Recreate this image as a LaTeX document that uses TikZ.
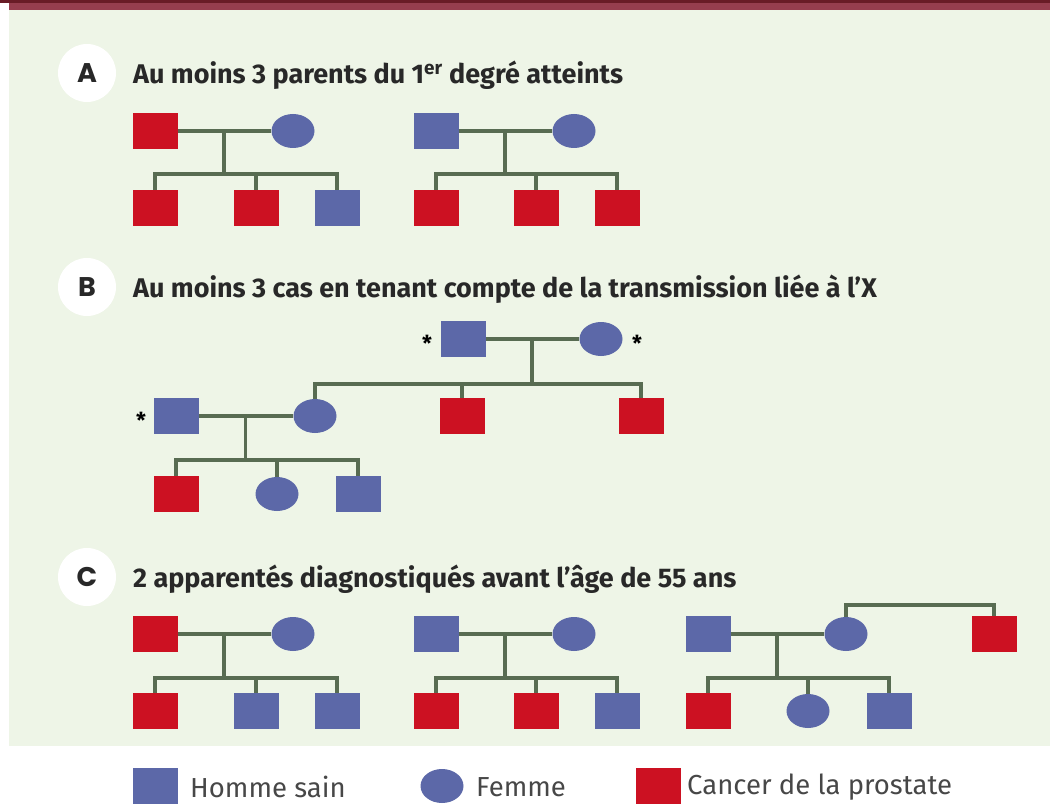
\documentclass[tikz,border=0pt]{standalone}
\usepackage{fontspec}
\setmainfont{Fira Sans}
\newfontfamily\lettrefont{Poppins}
\usetikzlibrary{shapes.geometric,calc}
\definecolor{rouge}{RGB}{204,17,34}
\definecolor{bleu}{RGB}{92,104,168}
\definecolor{trait}{RGB}{88,108,82}
\definecolor{fond}{RGB}{238,245,231}
\definecolor{bordeaux}{RGB}{105,28,38}
\definecolor{rose}{RGB}{150,62,78}
\definecolor{encre}{RGB}{40,40,40}
\begin{document}
\begin{tikzpicture}[x=1pt,y=-1pt,
  homme/.style={rectangle, fill=bleu, minimum width=45pt, minimum height=36pt, inner sep=0pt},
  malade/.style={rectangle, fill=rouge, minimum width=45pt, minimum height=36pt, inner sep=0pt},
  femme/.style={ellipse, fill=bleu, minimum width=43pt, minimum height=34pt, inner sep=0pt},
  lien/.style={draw=trait, line width=3.6pt},
  lettre/.style={circle, fill=white, minimum size=58pt, inner sep=0pt, font=\lettrefont\bfseries\fontsize{27}{27}\selectfont, text=encre},
  titre/.style={anchor=west, inner sep=0pt, font=\bfseries\fontsize{27}{32}\selectfont, text=encre},
  etoile/.style={inner sep=0pt, font=\bfseries\fontsize{22}{22}\selectfont},
  legende/.style={anchor=west, inner sep=0pt, font=\fontsize{27.5}{32}\selectfont, text=black!72}]
  \useasboundingbox (0,0) rectangle (1050,805);
  % fond
  \fill[bordeaux] (0,0) rectangle (1050,3.5);
  \fill[rose] (9,3.5) rectangle (1050,10);
  \fill[fond] (9,10) rectangle (1050,746);

  % A
  \node[lettre] (lA) at (87,73) {A};
  \node[titre] (tA) at (133,75) {Au moins 3 parents du 1\textsuperscript{er} degré atteints};
  \node[malade] (a1f) at (155,131) {};
  \node[femme] (a1m) at (293,131) {};
  \node[malade] (a1c1) at (155,208) {};
  \node[malade] (a1c2) at (256,208) {};
  \node[homme] (a1c3) at (337,208) {};
  \coordinate (a1s) at (224,174);
  \draw[lien] (a1f) -- (a1m);
  \draw[lien] ($(a1f)!.5!(a1m)$) -- (a1s);
  \draw[lien] (a1c1.north) |- (a1s) -| (a1c3.north);
  \draw[lien] (a1c2.north) -- (a1c2.north |- a1s);

  \node[homme] (a2f) at (436,131) {};
  \node[femme] (a2m) at (574,131) {};
  \node[malade] (a2c1) at (436,208) {};
  \node[malade] (a2c2) at (536,208) {};
  \node[malade] (a2c3) at (617,208) {};
  \coordinate (a2s) at (505,174);
  \draw[lien] (a2f) -- (a2m);
  \draw[lien] ($(a2f)!.5!(a2m)$) -- (a2s);
  \draw[lien] (a2c1.north) |- (a2s) -| (a2c3.north);
  \draw[lien] (a2c2.north) -- (a2c2.north |- a2s);

  % B
  \node[lettre] (lB) at (87,287) {B};
  \node[titre] (tB) at (133,289) {Au moins 3 cas en tenant compte de la transmission liée à l’X};
  \node[homme] (b1f) at (463,339) {};
  \node[femme] (b1m) at (601,339) {};
  \node[etoile] (e1) at (427,343) {*};
  \node[etoile] (e2) at (637,343) {*};
  \node[femme] (b2m) at (315,416) {};
  \node[malade] (b1c2) at (462,416) {};
  \node[malade] (b1c3) at (641,416) {};
  \coordinate (b1s) at (532,384);
  \draw[lien] (b1f) -- (b1m);
  \draw[lien] ($(b1f)!.5!(b1m)$) -- (b1s);
  \draw[lien] (b2m.north) |- (b1s) -| (b1c3.north);
  \draw[lien] (b1c2.north) -- (b1c2.north |- b1s);

  \node[homme] (b2f) at (176,416) {};
  \node[etoile] (e3) at (141,420) {*};
  \node[malade] (b2c1) at (176,494) {};
  \node[femme] (b2c2) at (277,494) {};
  \node[homme] (b2c3) at (358,494) {};
  \coordinate (b2s) at (245.5,460);
  \draw[lien] (b2f) -- (b2m);
  \draw[lien] ($(b2f)!.5!(b2m)$) -- (b2s);
  \draw[lien] (b2c1.north) |- (b2s) -| (b2c3.north);
  \draw[lien] (b2c2.north) -- (b2c2.north |- b2s);

  % C
  \node[lettre] (lC) at (87,577) {C};
  \node[titre] (tC) at (133,579) {2 apparentés diagnostiqués avant l’âge de 55 ans};
  \node[malade] (c1f) at (155,634) {};
  \node[femme] (c1m) at (293,634) {};
  \node[malade] (c1c1) at (155,711) {};
  \node[homme] (c1c2) at (256,711) {};
  \node[homme] (c1c3) at (337,711) {};
  \coordinate (c1s) at (224,678);
  \draw[lien] (c1f) -- (c1m);
  \draw[lien] ($(c1f)!.5!(c1m)$) -- (c1s);
  \draw[lien] (c1c1.north) |- (c1s) -| (c1c3.north);
  \draw[lien] (c1c2.north) -- (c1c2.north |- c1s);

  \node[homme] (c2f) at (436,634) {};
  \node[femme] (c2m) at (574,634) {};
  \node[malade] (c2c1) at (436,711) {};
  \node[malade] (c2c2) at (536,711) {};
  \node[homme] (c2c3) at (617,711) {};
  \coordinate (c2s) at (505,678);
  \draw[lien] (c2f) -- (c2m);
  \draw[lien] ($(c2f)!.5!(c2m)$) -- (c2s);
  \draw[lien] (c2c1.north) |- (c2s) -| (c2c3.north);
  \draw[lien] (c2c2.north) -- (c2c2.north |- c2s);

  \node[homme] (c3f) at (708,634) {};
  \node[femme] (c3m) at (846,634) {};
  \node[malade] (c3b) at (994,634) {};
  \node[malade] (c3c1) at (708,711) {};
  \node[femme] (c3c2) at (808,711) {};
  \node[homme] (c3c3) at (889,711) {};
  \coordinate (c3s) at (777,678);
  \coordinate (c3u) at (920,605);
  \draw[lien] (c3f) -- (c3m);
  \draw[lien] ($(c3f)!.5!(c3m)$) -- (c3s);
  \draw[lien] (c3c1.north) |- (c3s) -| (c3c3.north);
  \draw[lien] (c3c2.north) -- (c3c2.north |- c3s);
  \draw[lien] (c3m.north) |- (c3u) -| (c3b.north);

  % legende
  \node[homme] (lg1) at (155,786) {};
  \node[legende] (tg1) at (190,787) {Homme sain};
  \node[femme] (lg2) at (442,786) {};
  \node[legende] (tg2) at (476,787) {Femme};
  \node[malade] (lg3) at (658,786) {};
  \node[legende] (tg3) at (687,787) {Cancer de la prostate};
\end{tikzpicture}
\end{document}
